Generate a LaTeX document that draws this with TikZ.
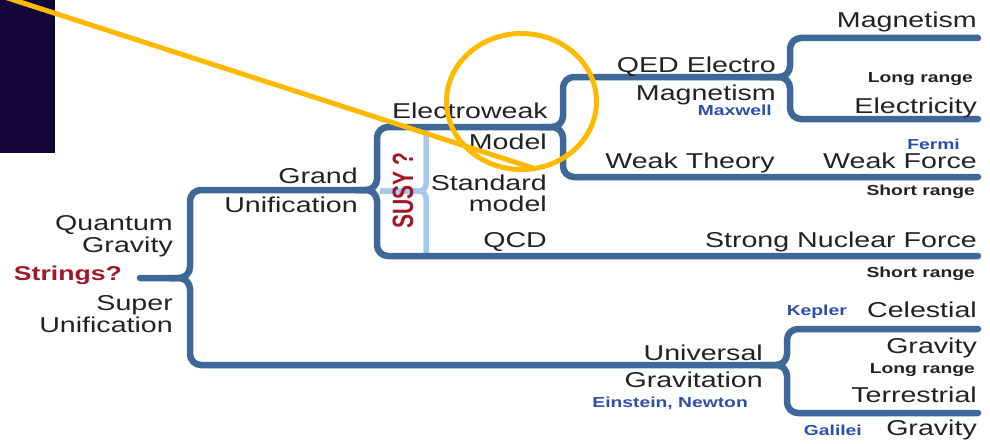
\documentclass[tikz,border=0pt]{standalone}
\usepackage{fontspec}
\usepackage{graphicx}
\newfontfamily\lab[FakeStretch=1.33]{Liberation Sans}
\newfontfamily\labn{Liberation Sans}
\definecolor{treeblue}{HTML}{3D6898}
\definecolor{susyblue}{HTML}{A7C7EE}
\definecolor{txt}{HTML}{222222}
\definecolor{nameblue}{HTML}{2E4FA8}
\definecolor{strred}{HTML}{A01828}
\definecolor{navy}{HTML}{130638}
\definecolor{hilite}{HTML}{FFBA00}
\tikzset{
  branch/.style={draw=treeblue, line width=6.5pt, rounded corners=11pt, line cap=round},
  susyline/.style={draw=susyblue, line width=5.5pt, rounded corners=7pt},
  big/.style={anchor=base east, inner sep=0pt, text=txt, font=\lab\fontsize{21.5}{24}\selectfont},
  small/.style={anchor=base east, inner sep=0pt, text=txt, font=\lab\bfseries\fontsize{14.5}{16}\selectfont},
  who/.style={anchor=base east, inner sep=0pt, text=nameblue, font=\lab\bfseries\fontsize{14.5}{16}\selectfont},
  hilitestroke/.style={draw=hilite, line width=5pt}
}
\begin{document}
\begin{tikzpicture}[x=1pt,y=-1pt]
\useasboundingbox (0,0) rectangle (990,444);
\clip (0,0) rectangle (990,444);
% dark panel
\fill[navy] (0,0) rectangle (55,153);
% junction coordinates
\coordinate (str) at (140,278);
\coordinate (top) at (190,190);
\coordinate (ew) at (377,127);
\coordinate (qed) at (563,77);
\coordinate (mag) at (790,38);
\coordinate (magE) at (978,38);
\coordinate (qedS) at (760,77);
\coordinate (ele) at (790,119);
\coordinate (eleE) at (978,119);
\coordinate (ewS) at (540,127);
\coordinate (weak) at (563,177);
\coordinate (weakE) at (978,177);
\coordinate (guS) at (355,190);
\coordinate (qcd) at (377,256);
\coordinate (qcdE) at (978,256);
\coordinate (strS) at (170,278);
\coordinate (bot) at (190,365);
\coordinate (cel) at (787,329);
\coordinate (celE) at (978,329);
\coordinate (botS) at (760,365);
\coordinate (ter) at (787,413);
\coordinate (terE) at (978,413);
\coordinate (susyS) at (380,191);
\coordinate (susyT) at (426,128);
\coordinate (susyB) at (426,254);
% SUSY light bracket
\draw[susyline] (susyS) -| (susyT);
\draw[susyline] (susyS) -| (susyB);
% tree
\draw[branch] (str) -| (top) -| (ew) -| (qed) -| (mag) -- (magE);
\draw[branch] (qedS) -| (ele) -- (eleE);
\draw[branch] (ewS) -| (weak) -- (weakE);
\draw[branch] (guS) -| (qcd) -- (qcdE);
\draw[branch] (strS) -| (bot) -| (cel) -- (celE);
\draw[branch] (botS) -| (ter) -- (terE);
% labels
\node[big] (t1) at (977,28) {Magnetism};
\node[big] (t2) at (776,72) {QED Electro};
\node[big] (t3) at (776,100) {Magnetism};
\node[who] (t4) at (772,115) {Maxwell};
\node[small] (t5) at (973,82) {Long range};
\node[big] (t6) at (977,113) {Electricity};
\node[who] (t7) at (960,149) {Fermi};
\node[big] (t8) at (977,168) {Weak Force};
\node[big] (t9) at (775,168) {Weak Theory};
\node[small] (t10) at (975,195) {Short range};
\node[big] (t11) at (977,247) {Strong Nuclear Force};
\node[small] (t12) at (975,277) {Short range};
\node[big] (t13) at (548,118) {Electroweak};
\node[big] (t14) at (547,149) {Model};
\node[big] (t15) at (547,190) {Standard};
\node[big] (t16) at (547,211) {model};
\node[big] (t17) at (547,247) {QCD};
\node[big] (t18) at (358,183) {Grand};
\node[big] (t19) at (358,212) {Unification};
\node[big] (t20) at (173,230) {Quantum};
\node[big] (t21) at (173,252) {Gravity};
\node[big, text=strred, font=\lab\bfseries\fontsize{20}{22}\selectfont] (t22) at (122,280) {Strings?};
\node[big] (t23) at (173,310) {Super};
\node[big] (t24) at (173,332) {Unification};
\node[who] (t25) at (847,315) {Kepler};
\node[big] (t26) at (977,317) {Celestial};
\node[big] (t27) at (763,360) {Universal};
\node[big] (t28) at (977,353) {Gravity};
\node[small] (t29) at (975,373) {Long range};
\node[big] (t30) at (763,387) {Gravitation};
\node[who] (t31) at (748,407) {Einstein, Newton};
\node[big] (t32) at (977,402) {Terrestrial};
\node[who] (t33) at (862,435) {Galilei};
\node[big] (t34) at (977,435) {Gravity};
\node[rotate=90, inner sep=0pt, text=strred, font=\labn\bfseries\fontsize{21}{23}\selectfont] (susy) at (403,191) {\scalebox{1}[1.4]{SUSY ?}};
% highlight
\coordinate (ys) at (-10,-7.7);
\coordinate (ye) at (533,168);
\draw[hilitestroke, line cap=round] (ys) -- (ye);
\draw[hilitestroke] (521.5,101.5) ellipse [x radius=75, y radius=68];
\end{tikzpicture}
\end{document}
